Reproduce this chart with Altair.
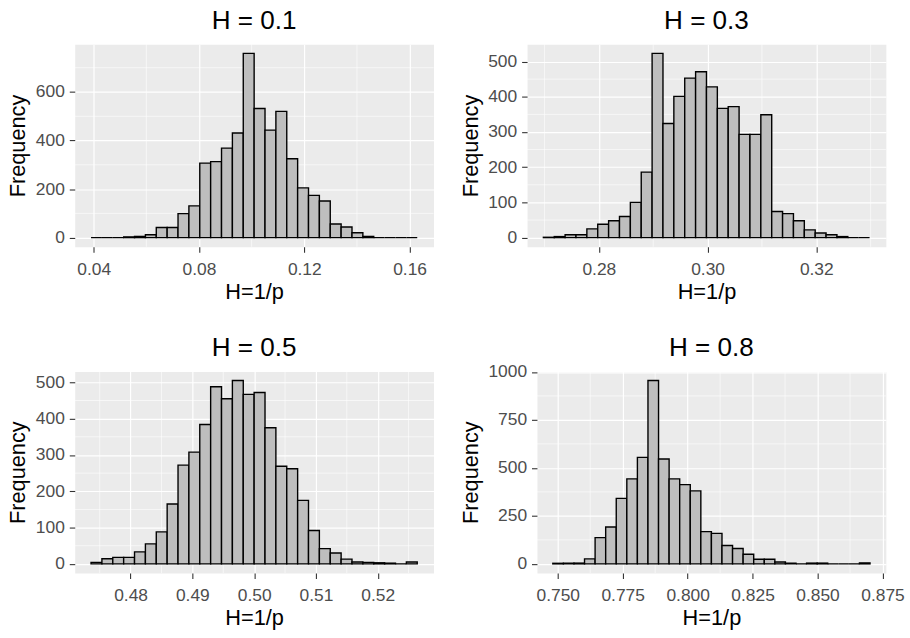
import altair as alt
import pandas as pd

FONT = "Liberation Sans"

titles = ["H = 0.1", "H = 0.3", "H = 0.5", "H = 0.8"]
bin_start = [0.0390, 0.2698, 0.4736, 0.7481]
bin_width = [0.00413, 0.00200, 0.00176, 0.00407]

counts_h01 = [0, 0, 0, 3, 5, 12, 42, 42, 99, 131, 307, 313, 369, 431, 759,
              532, 443, 520, 325, 205, 174, 151, 56, 44, 20, 5, 0, 0, 0, 0]
counts_h03 = [1, 3, 8, 8, 25, 38, 48, 60, 100, 186, 523, 324, 401, 453, 471,
              428, 367, 372, 293, 293, 349, 74, 68, 48, 22, 13, 8, 3, 0, 0]
counts_h05 = [4, 14, 18, 18, 33, 55, 88, 165, 272, 308, 384, 488, 455, 505, 467,
              472, 375, 269, 262, 175, 92, 42, 30, 13, 5, 4, 3, 2, 0, 5]
counts_h08 = [3, 3, 4, 26, 137, 192, 341, 443, 555, 955, 546, 443, 413, 380, 168,
              159, 96, 80, 50, 24, 24, 10, 3, 0, 4, 4, 0, 0, 0, 5]
counts = [counts_h01, counts_h03, counts_h05, counts_h08]

x_major = [[0.04, 0.08, 0.12, 0.16],
           [0.28, 0.30, 0.32],
           [0.48, 0.49, 0.50, 0.51, 0.52],
           [0.750, 0.775, 0.800, 0.825, 0.850, 0.875]]
x_minor = [[0.06, 0.10, 0.14],
           [0.27, 0.29, 0.31, 0.33],
           [0.475, 0.485, 0.495, 0.505, 0.515, 0.525],
           [0.7625, 0.7875, 0.8125, 0.8375, 0.8625]]
y_major = [[0, 200, 400, 600],
           [0, 100, 200, 300, 400, 500],
           [0, 100, 200, 300, 400, 500],
           [0, 250, 500, 750, 1000]]
y_minor = [[100, 300, 500, 700],
           [50, 150, 250, 350, 450],
           [50, 150, 250, 350, 450],
           [125, 375, 625, 875]]
x_format = [".2f", ".2f", ".2f", ".3f"]

widths = [363, 363, 363, 353]
heights = [205, 205, 204, 204]
title_offsets = [10, 10, 10, 1.8]


def panel(i):
    c = counts[i]
    n = len(c)
    x0 = [bin_start[i] + k * bin_width[i] for k in range(n)]
    x1 = [v + bin_width[i] for v in x0]
    df = pd.DataFrame({"x0": x0, "x1": x1, "count": c, "base": [0] * n})
    lo, hi = x0[0], x1[-1]
    pad = 0.05 * (hi - lo)
    ymax = max(c)
    xs = alt.Scale(domain=[lo - pad, hi + pad], nice=False, zero=False)
    ys = alt.Scale(domain=[-0.05 * ymax, 1.05 * ymax], nice=False, zero=False)
    xaxis = alt.Axis(values=x_major[i], format=x_format[i], title="H=1/p", grid=True)
    yaxis = alt.Axis(values=y_major[i], format="d", title="Frequency", grid=True)

    gx = alt.Chart(pd.DataFrame({"v": x_minor[i]})).mark_rule(
        color="white", strokeWidth=0.6
    ).encode(x=alt.X("v:Q", scale=xs, axis=xaxis))
    gy = alt.Chart(pd.DataFrame({"v": y_minor[i]})).mark_rule(
        color="white", strokeWidth=0.6
    ).encode(y=alt.Y("v:Q", scale=ys, axis=yaxis))
    bars = alt.Chart(df).mark_rect(
        fill="#BEBEBE", stroke="black", strokeWidth=1.4
    ).encode(
        x=alt.X("x0:Q", scale=xs, axis=xaxis),
        x2="x1",
        y=alt.Y("count:Q", scale=ys, axis=yaxis),
        y2="base",
    )
    return alt.layer(gx, gy, bars).properties(
        width=widths[i], height=heights[i],
        title=alt.TitleParams(titles[i], offset=title_offsets[i]),
    )


row1 = alt.hconcat(panel(0), panel(1), spacing=24.6)
row2 = alt.hconcat(panel(2), panel(3), spacing=24.6)

chart = alt.vconcat(row1, row2, spacing=31).properties(
    padding={"left": 6.6, "top": 3, "right": 5, "bottom": 5}
).configure_view(
    fill="#EBEBEB", stroke="transparent"
).configure_axis(
    domain=False,
    gridColor="white",
    gridWidth=1.2,
    tickColor="#333333",
    tickWidth=1.1,
    tickSize=5.5,
    labelColor="#4D4D4D",
    labelFont=FONT,
    labelFontSize=17.6,
    labelFlush=False,
    labelOverlap=False,
    titleFont=FONT,
    titleFontSize=22,
    titleFontWeight="normal",
    titleColor="black",
).configure_axisX(
    labelPadding=8, titlePadding=4
).configure_axisY(
    labelPadding=5, titlePadding=5.5
).configure_title(
    font=FONT, fontSize=26.4, fontWeight="normal", anchor="middle",
    color="black"
)

chart.save("out.html", embed_options={"renderer": "svg", "actions": False})
